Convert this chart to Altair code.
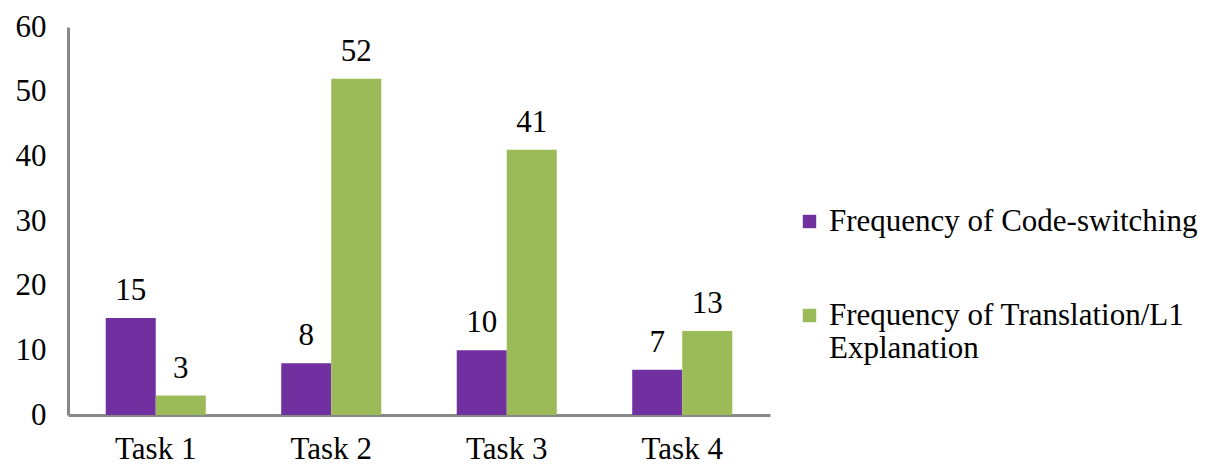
import altair as alt
import pandas as pd

tasks = ["Task 1", "Task 2", "Task 3", "Task 4"]
code_switching = [15, 8, 10, 7]
translation = [3, 52, 41, 13]
series = ["Frequency of Code-switching", "Frequency of Translation/L1 Explanation"]
colors = ["#7030A0", "#9BBB59"]

rows = []
for t, a, b in zip(tasks, code_switching, translation):
    rows.append({"task": t, "series": series[0], "value": a})
    rows.append({"task": t, "series": series[1], "value": b})
df = pd.DataFrame(rows)

FONT = "Liberation Serif"
FS = 31

x = alt.X("task:N", sort=tasks, title=None,
          scale=alt.Scale(paddingInner=0.43, paddingOuter=0.215),
          axis=alt.Axis(labelAngle=0, labelFontSize=FS, labelFont=FONT, labelColor="#000",
                        ticks=False, labelPadding=19, domainColor="#888888", domainWidth=3))
y = alt.Y("value:Q", title=None,
          scale=alt.Scale(domain=[0, 60]),
          axis=alt.Axis(values=[0, 10, 20, 30, 40, 50, 60], grid=False, ticks=False,
                        labelFontSize=FS, labelFont=FONT, labelColor="#000", labelPadding=22,
                        domainColor="#888888", domainWidth=3))

color = alt.Color("series:N", sort=series,
                  scale=alt.Scale(domain=series, range=colors),
                  legend=alt.Legend(title=None, labelFont=FONT, labelFontSize=FS, labelColor="#000",
                                    symbolType="square", symbolSize=180, symbolStrokeWidth=0,
                                    rowPadding=62, orient="none", legendX=726, legendY=179,
                                    labelLimit=500,
                                    labelExpr="datum.label == 'Frequency of Translation/L1 Explanation' ? ['Frequency of  Translation/L1', 'Explanation'] : datum.label"))

base = alt.Chart(df).encode(x=x, y=y, xOffset=alt.XOffset("series:N", sort=series))

bars = base.mark_bar().encode(color=color)
labels = base.mark_text(baseline="bottom", dy=-11, font=FONT, fontSize=FS, color="#000").encode(
    text=alt.Text("value:Q"))

chart = alt.layer(bars, labels).properties(
    width=702, height=388, background="white",
    autosize=alt.AutoSizeParams(type="none"),
    padding={"left": 60, "top": 19, "right": 434, "bottom": 53}
).configure_view(stroke=None)

chart.save("out.html", embed_options={"renderer": "svg", "actions": False})
